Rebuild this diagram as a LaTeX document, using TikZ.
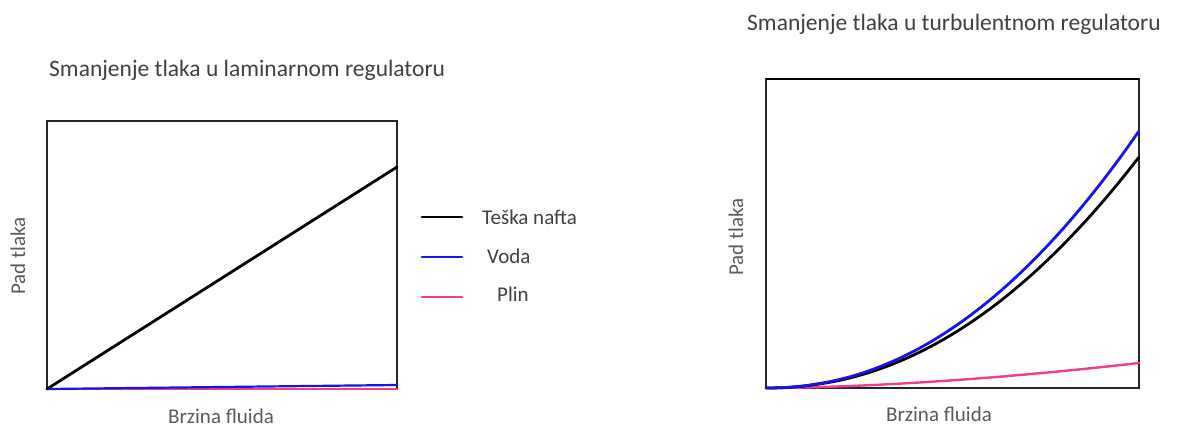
\documentclass[tikz,border=0pt]{standalone}
\usepackage{xcolor}
\usepackage{fontspec}
\setmainfont{Carlito}
\usepackage{tikz}
\usetikzlibrary{positioning}
\definecolor{textGray}{RGB}{64,64,64}
\definecolor{labelGray}{RGB}{90,90,90}
\definecolor{waterBlue}{RGB}{20,20,235}
\definecolor{gasPink}{RGB}{238,62,140}
\tikzstyle{plotTitle} = [text=textGray, font=\fontsize{23.5}{28}\selectfont, inner sep=0pt, anchor=west]
\tikzstyle{axisLabel} = [text=labelGray, font=\fontsize{21}{25}\selectfont, inner sep=0pt]
\tikzstyle{legendText} = [text=textGray, font=\fontsize{21}{25}\selectfont, inner sep=0pt, anchor=west]
\tikzstyle{frame} = [draw=black!85, line width=1.4pt]
\tikzstyle{curve} = [line width=2.8pt, line cap=round]

\begin{document}
\begin{tikzpicture}[x=1pt, y=-1pt]
    \useasboundingbox (0,0) rectangle (1177,427);
    % Place nodes
    \node [plotTitle] (lamTitle) at (49,70) {Smanjenje tlaka u laminarnom regulatoru};
    \node [plotTitle] (turbTitle) at (747,24) {Smanjenje tlaka u turbulentnom regulatoru};
    \node [axisLabel, rotate=90] (lamY) at (18,256) {Pad tlaka};
    \node [axisLabel, rotate=90] (turbY) at (736,237) {Pad tlaka};
    \node [axisLabel] (lamX) at (221,416) {Brzina fluida};
    \node [axisLabel] (turbX) at (939,414) {Brzina fluida};

    % Legend
    \coordinate (oilA) at (422,217);
    \coordinate (oilB) at (462,217);
    \coordinate (waterA) at (422,257);
    \coordinate (waterB) at (462,257);
    \coordinate (gasA) at (422,297);
    \coordinate (gasB) at (462,297);
    \node [legendText] (oilText) at (482,217) {Teška nafta};
    \node [legendText] (waterText) at (487,256) {Voda};
    \node [legendText] (gasText) at (497,294) {Plin};
    \draw [curve, black] (oilA) -- (oilB);
    \draw [curve, waterBlue] (waterA) -- (waterB);
    \draw [curve, gasPink] (gasA) -- (gasB);

    % Laminar plot
    \coordinate (lamO) at (47,389);
    \coordinate (lamTR) at (397,121);
    \coordinate (lamOil) at (397,167);
    \coordinate (lamWater) at (397,385);
    \coordinate (lamGas) at (397,389);
    \draw [frame] (lamO) rectangle (lamTR);
    \draw [curve, gasPink] (lamO) -- (lamGas);
    \draw [curve, waterBlue, line width=2.2pt] (lamO) -- (lamWater);
    \draw [curve, black] (lamO) -- (lamOil);

    % Turbulent plot
    \coordinate (turbO) at (766,388);
    \coordinate (turbTL) at (766,79);
    \coordinate (turbTR) at (1139,79);
    \draw [frame] (turbO) rectangle (turbTR);
    \draw [line width=2.8pt] (turbTL) -- (turbTR);
    \draw [curve, gasPink, line width=2.4pt] (turbO) -- plot[domain=0.01:1, samples=40] ({766+373*\x}, {388-25*\x^1.7});
    \draw [curve, black] (turbO) -- plot[domain=0.01:1, samples=60] ({766+373*\x}, {388-231*\x^2.1});
    \draw [curve, waterBlue] (turbO) -- plot[domain=0.01:1, samples=60] ({766+373*\x}, {388-257*\x^2.1});
\end{tikzpicture}
\end{document}
